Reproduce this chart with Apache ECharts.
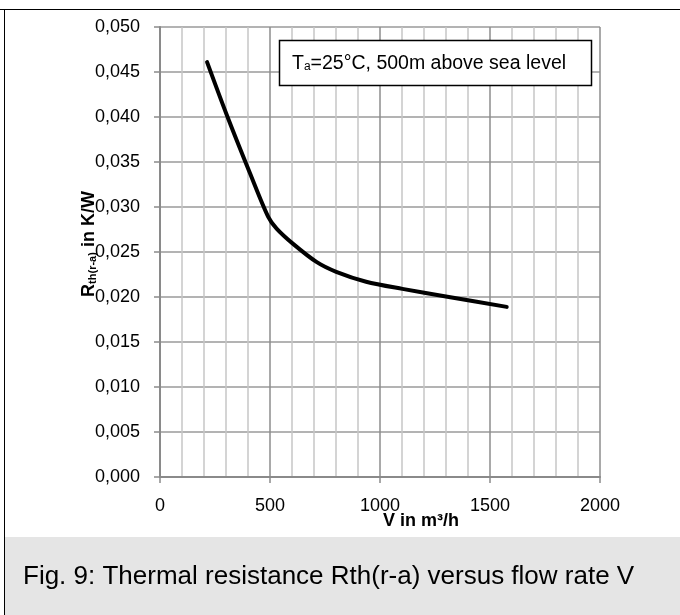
<!DOCTYPE html>
<html>
<head>
<meta charset="utf-8">
<script src="https://cdn.jsdelivr.net/npm/echarts/dist/echarts.min.js"></script>
<style>
  html, body { margin: 0; padding: 0; background: #fff; }
  #chart { width: 680px; height: 615px; }
</style>
</head>
<body>
<div id="chart"></div>
<script>
// ---- data ----
const flowRate = [214, 304, 410, 492, 530, 605, 711, 801, 937, 1102, 1313, 1576];
const rthValues = [0.0461, 0.0402, 0.0337, 0.0289, 0.0276, 0.0259, 0.0239, 0.0228, 0.0217, 0.0209, 0.0200, 0.0189];
const xTickValues = [0, 500, 1000, 1500, 2000];
const yTickValues = [0, 0.005, 0.01, 0.015, 0.02, 0.025, 0.03, 0.035, 0.04, 0.045, 0.05];
const annotationText = '{n|T}{s|a}{n|=25°C, 500m above sea level}';
const captionText = 'Fig. 9: Thermal resistance Rth(r-a) versus flow rate V';

const FONT = '"Liberation Sans", Arial, sans-serif';
const chart = echarts.init(document.getElementById('chart'), null, { renderer: 'canvas' });

const points = flowRate.map((v, i) => [v, rthValues[i]]);

chart.setOption({
  animation: false,
  backgroundColor: '#fff',
  grid: { left: 160, top: 27, width: 440, height: 450, containLabel: false, outerBoundsMode: 'none' },
  xAxis: {
    type: 'value',
    min: xTickValues[0],
    max: xTickValues[xTickValues.length - 1],
    interval: xTickValues[1] - xTickValues[0],
    name: 'V in m³/h',
    nameLocation: 'middle',
    nameGap: 35,
    nameMoveOverlap: false,
    nameTextStyle: { fontFamily: FONT, fontSize: 18, fontWeight: 'bold', color: '#000', padding: [0, 0, 0, 82] },
    axisLine: { show: true, onZero: false, lineStyle: { color: '#8a8a8a', width: 2 } },
    axisTick: { show: true, length: 6, lineStyle: { color: '#8a8a8a', width: 1.5 } },
    minorTick: { show: false, splitNumber: 5 },
    axisLabel: { margin: 20, fontFamily: FONT, fontSize: 18, color: '#000', formatter: v => String(v) },
    splitLine: { show: true, lineStyle: { color: '#8c8c8c', width: 1.5 } },
    minorSplitLine: { show: true, lineStyle: { color: '#c6c6c6', width: 1.5 } }
  },
  yAxis: {
    type: 'value',
    min: yTickValues[0],
    max: yTickValues[yTickValues.length - 1],
    interval: 0.005,
    name: '{n|R}{s|th(r-a)}{n| in K/W}',
    nameLocation: 'middle',
    nameRotate: 90,
    nameGap: 62,
    nameMoveOverlap: false,
    nameTextStyle: {
      color: '#000',
      padding: [0, 0, 0, 16],
      rich: {
        n: { fontFamily: FONT, fontSize: 18, fontWeight: 'bold', color: '#000', lineHeight: 18, verticalAlign: 'top' },
        s: { fontFamily: FONT, fontSize: 11, fontWeight: 'bold', color: '#000', lineHeight: 12, padding: [9, 0, 0, 0], verticalAlign: 'bottom' }
      }
    },
    axisLine: { show: true, onZero: false, lineStyle: { color: '#8a8a8a', width: 2 } },
    axisTick: { show: true, length: 6, lineStyle: { color: '#8a8a8a', width: 1.5 } },
    axisLabel: {
      margin: 20, fontFamily: FONT, fontSize: 18, color: '#000',
      formatter: v => v.toFixed(3).replace('.', ',')
    },
    splitLine: { show: true, lineStyle: { color: '#9a9a9a', width: 1.5 } }
  },
  series: [{
    type: 'line',
    data: points,
    smooth: 0.3,
    showSymbol: false,
    symbol: 'none',
    lineStyle: { color: '#000', width: 4, cap: 'round', join: 'round' },
    z: 5
  }],
  graphic: [
    { type: 'line', shape: { x1: 0, y1: 9.5, x2: 680, y2: 9.5 }, style: { stroke: '#000', lineWidth: 1 }, z: 100 },
    { type: 'line', shape: { x1: 4.5, y1: 9, x2: 4.5, y2: 615 }, style: { stroke: '#000', lineWidth: 1 }, z: 100 },
    { type: 'rect', shape: { x: 5, y: 537, width: 675, height: 78 }, style: { fill: '#e5e5e5' }, z: 50 },
    { type: 'text', x: 23, y: 577, style: { text: captionText, font: '26px "Liberation Sans", Arial, sans-serif', fill: '#000', verticalAlign: 'middle' }, z: 60 },
    { type: 'rect', shape: { x: 279.5, y: 40.5, width: 312, height: 45 }, style: { fill: '#fff', stroke: '#000', lineWidth: 1.5 }, z: 50 },
    {
      type: 'text', x: 292, y: 63, z: 60,
      style: {
        text: annotationText,
        verticalAlign: 'middle',
        rich: {
          n: { fontFamily: FONT, fontSize: 19.5, fill: '#000', lineHeight: 19, verticalAlign: 'top' },
          s: { fontFamily: FONT, fontSize: 12, fill: '#000', lineHeight: 12, padding: [10, 0, 0, 0], verticalAlign: 'bottom' }
        }
      }
    }
  ]
});
</script>
</body>
</html>
